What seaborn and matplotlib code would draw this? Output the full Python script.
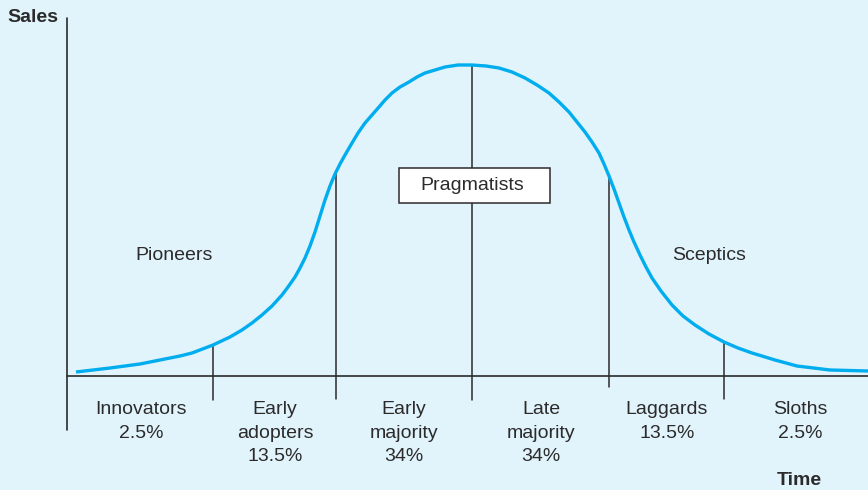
import matplotlib
matplotlib.use("Agg")
import matplotlib.pyplot as plt
from matplotlib.patches import Rectangle
import seaborn as sns
import numpy as np
import pandas as pd

# ---- data (x = time position, y = sales height) ----
curve_x = [76, 110, 140, 160, 180, 192, 213, 230, 242, 252, 262, 272, 282, 288,
           295, 300, 305, 310, 315, 320, 325, 330, 335, 340, 345,
           352, 358, 365, 372, 379, 385, 392, 400, 409, 417, 425, 435,
           445, 458, 472, 486, 499, 512, 525, 537, 549, 559, 569, 577, 585, 592,
           599, 604, 609, 614, 619, 624, 629, 634, 640, 646, 652, 661,
           672, 683, 695, 709, 724, 738, 752, 775, 797, 830, 868]
curve_y = [4, 8, 12, 16, 20, 23, 31, 39, 46, 53, 61, 70, 81, 89,
           99, 108, 118, 130, 144, 160, 176, 190, 202, 212, 221,
           233, 243, 253, 261, 269, 276, 283, 289, 294, 299, 303, 306,
           309, 311, 311, 310, 308, 304, 298, 291, 283, 274, 264, 254, 244, 234,
           223, 212, 200, 187, 173, 159, 146, 134, 121, 109, 98, 85,
           71, 60, 51, 42, 34, 28, 23, 16, 10, 6, 5]

divider_x = [213, 336, 472, 609, 724]
divider_bottom = [-24, -23, -24, -11, -23]

segment_x = [141, 275, 404, 541, 667, 800]
segment_labels = ["Innovators\n2.5%", "Early\nadopters\n13.5%", "Early\nmajority\n34%",
                  "Late\nmajority\n34%", "Laggards\n13.5%", "Sloths\n2.5%"]

group_labels = ["Pioneers", "Pragmatists", "Sceptics"]
group_x = [174, 472, 709]
group_y = [121, 191, 121]

BG = "#e1f3fb"
CURVE = "#00adef"
INK = "#2b2b2b"

sns.set_theme(style="white")
plt.rcParams["font.family"] = ["Liberation Sans", "DejaVu Sans"]

fig = plt.figure(figsize=(8.68, 4.90), dpi=100)
fig.patch.set_facecolor(BG)
ax = fig.add_axes([0, 0, 1, 1])
ax.set_facecolor(BG)
ax.set_xlim(0, 868)
ax.set_ylim(-114, 376)
ax.axis("off")

df = pd.DataFrame({"time": curve_x, "sales": curve_y})
sns.lineplot(data=df, x="time", y="sales", ax=ax, color=CURVE, lw=2.4,
             solid_capstyle="butt", solid_joinstyle="round", zorder=3,
             estimator=None, sort=True)

# axes lines
ax.plot([67, 67], [358, -54], color=INK, lw=1.2, zorder=2)
ax.plot([67, 868], [0, 0], color=INK, lw=1.2, zorder=2)

# divider lines from curve down below the axis
for dx, db in zip(divider_x, divider_bottom):
    top = np.interp(dx, curve_x, curve_y)
    ax.plot([dx, dx], [db, top], color=INK, lw=1.1, zorder=2)

fs = 14
for sx, lab in zip(segment_x, segment_labels):
    ax.text(sx, -25, lab, ha="center", va="top", fontsize=fs, color=INK,
            linespacing=1.5)

for gx, gy, lab in zip(group_x, group_y, group_labels):
    if lab == "Pragmatists":
        ax.add_patch(Rectangle((399, 173), 151, 35, fc="white", ec=INK,
                               lw=1.1, zorder=4))
        ax.text(gx, gy, lab, ha="center", va="center", fontsize=fs, color=INK,
                zorder=5)
    else:
        ax.text(gx, gy, lab, ha="center", va="center", fontsize=fs, color=INK)

ax.text(33, 358, "Sales", ha="center", va="center", fontsize=fs,
        fontweight="bold", color=INK)
ax.text(799, -104, "Time", ha="center", va="center", fontsize=fs,
        fontweight="bold", color=INK)

fig.savefig("out.png", dpi=100, facecolor=BG)
